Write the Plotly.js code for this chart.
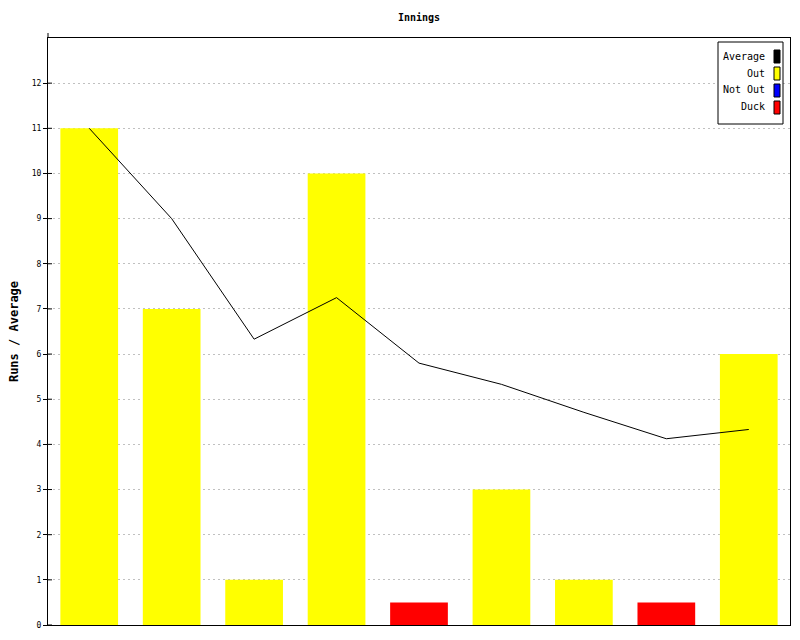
<!DOCTYPE html>
<html><head><meta charset="utf-8">
<script src="https://cdn.plot.ly/plotly-3.0.1.min.js"></script>
<style>body{margin:0;background:#fff}</style>
</head><body><div id="chart" style="width:800px;height:640px"></div>
<script>
const innings = ['1','2','3','4','5','6','7','8','9'];
const outRuns = [11, 7, 1, 10, null, 3, 1, null, 6];
const notOutRuns = [null, null, null, null, null, null, null, null, null];
const duckRuns = [null, null, null, null, 0.5, null, null, 0.5, null];
const average = [11, 9, 6.33, 7.25, 5.8, 5.33, 4.71, 4.125, 4.33];
const yTicks = [0,1,2,3,4,5,6,7,8,9,10,11,12];
const legendNames = ['Average', 'Out', 'Not Out', 'Duck'];
const legendColors = ['#000000', '#ffff00', '#0000ff', '#ff0000'];

const W = 800, H = 640, L = 48, R = 10, T = 38, B = 15;
const pw = W - L - R, ph = H - T - B;
const px = x => (x - L) / pw;
const py = y => (H - B - y) / ph;
const mono = 'DejaVu Sans Mono, monospace';

const traces = [
  {type:'bar', x: innings, y: outRuns, name:'Out', marker:{color:'#ffff00', line:{width:0}}},
  {type:'bar', x: innings, y: notOutRuns, name:'Not Out', marker:{color:'#0000ff', line:{width:0}}},
  {type:'bar', x: innings, y: duckRuns, name:'Duck', marker:{color:'#ff0000', line:{width:0}}},
  {type:'scatter', mode:'lines', x: innings, y: average, name:'Average', line:{color:'#000', width:1}}
];

const shapes = [
  {type:'line', xref:'paper', yref:'paper', x0:0, x1:0, y0:1, y1:py(33), line:{color:'#000', width:1}},
  {type:'rect', xref:'paper', yref:'paper', x0:px(718), x1:px(783), y0:py(42), y1:py(124), line:{color:'#000', width:1}, fillcolor:'#fff'}
];
const annotations = [];
const rowY = [56, 73, 90, 107];
legendNames.forEach((n, i) => {
  shapes.push({type:'rect', xref:'paper', yref:'paper', x0:px(774), x1:px(780), y0:py(rowY[i]-6), y1:py(rowY[i]+7), line:{color:'#000', width:1}, fillcolor:legendColors[i]});
  annotations.push({xref:'paper', yref:'paper', x:px(767), y:py(rowY[i]), xanchor:'right', yanchor:'middle', text:n, showarrow:false, font:{family:mono, size:10, color:'#000'}});
});
yTicks.forEach(v => {
  shapes.push({type:'line', xref:'paper', yref:'y', x0:0, x1:px(L+4), y0:v, y1:v, line:{color:'#000', width:1}});
});

const layout = {
  width: W, height: H,
  margin: {l:L, r:R, t:T, b:B, pad:0},
  paper_bgcolor:'#fff', plot_bgcolor:'#fff',
  title: {text:'<b>Innings</b>', font:{family:mono, size:10, color:'#000'}, x:px(419), xref:'paper', y:1 - 17/H, yanchor:'middle'},
  showlegend: false,
  barmode: 'overlay',
  bargap: 0.3,
  xaxis: {type:'category', showticklabels:false, ticks:'', showgrid:false, showline:true, linecolor:'#000', linewidth:1, mirror:true, zeroline:false, range:[-0.5, 8.5]},
  yaxis: {range:[0, 13], tickmode:'array', tickvals:yTicks, ticktext:yTicks.map(String), ticks:'outside', ticklen:4, tickcolor:'#000', tickwidth:1,
    tickfont:{family:mono, size:8, color:'#000'}, showline:true, linecolor:'#000', linewidth:1, mirror:true,
    showgrid:true, gridcolor:'#c0c0c0', griddash:'2px,3px', gridwidth:1, zeroline:false,
    title:{text:'<b>Runs / Average</b>', font:{family:mono, size:12, color:'#000'}, standoff:10}},
  shapes: shapes,
  annotations: annotations
};

Plotly.newPlot('chart', traces, layout, {displayModeBar:false, staticPlot:true});
</script></body></html>
